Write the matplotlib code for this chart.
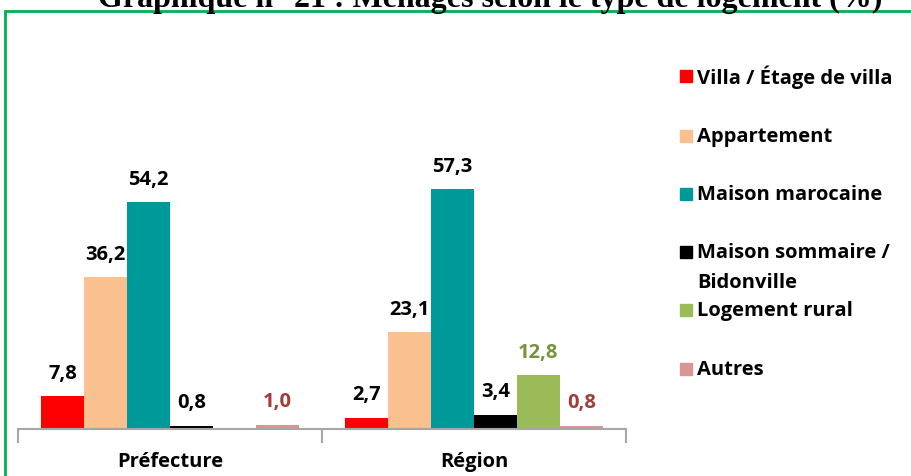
import numpy as np
import matplotlib
matplotlib.use("Agg")
import matplotlib.pyplot as plt
from matplotlib.patches import Rectangle

# ---- data ----
groups = ["Préfecture", "Région"]
series = ["Villa / Étage de villa", "Appartement", "Maison marocaine",
          "Maison sommaire /\nBidonville", "Logement rural", "Autres"]
villa = [7.8, 2.7]
appart = [36.2, 23.1]
maison_maroc = [54.2, 57.3]
sommaire = [0.8, 3.4]
rural = [None, 12.8]
autres = [1.0, 0.8]
values = [villa, appart, maison_maroc, sommaire, rural, autres]

colors = ["#FF0000", "#FAC090", "#009999", "#000000", "#9BBB59", "#D99594"]
label_colors = ["#000000", "#000000", "#000000", "#000000", "#77933C", "#A33B3B"]

plt.rcParams["font.family"] = ["Open Sans", "DejaVu Sans"]
FS = 14.5

fig = plt.figure(figsize=(9.12, 4.77), dpi=100)
ax = fig.add_axes([18 / 912, 47 / 477, 608 / 912, 293 / 477])

bw = 43 / 304
x = np.arange(len(groups))
for i, (vals, c, lc) in enumerate(zip(values, colors, label_colors)):
    off = (i - 2.5) * bw
    for g, v in enumerate(vals):
        if v is None:
            continue
        ax.bar(x[g] + off, v, width=bw, color=c)
        ax.text(x[g] + off, v + 3.2, f"{v:.1f}".replace(".", ","),
                ha="center", va="bottom", fontsize=FS, fontweight="bold", color=lc)

ax.set_xlim(-0.5, 1.5)
ax.set_ylim(0, 70)
ax.set_yticks([])
for s in ["top", "right", "left"]:
    ax.spines[s].set_visible(False)
ax.spines["bottom"].set_color("#A6A6A6")
ax.spines["bottom"].set_linewidth(1.5)
ax.set_xticks([-0.5, 0.5, 1.5])
ax.set_xticklabels([])
ax.tick_params(axis="x", length=10, width=1.5, color="#A6A6A6")
for g, name in enumerate(groups):
    ax.text(x[g], -0.11, name, transform=ax.get_xaxis_transform(),
            ha="center", va="center", fontsize=FS, fontweight="bold")

# legend drawn by hand to match the spacing
leg_y = [77, 137, 195, 253, 311, 370]
for name, c, y in zip(series, colors, leg_y):
    fig.patches.append(Rectangle((680 / 912, 1 - (y + 6) / 477), 12 / 912, 12 / 477,
                                 transform=fig.transFigure, color=c))
    for k, line in enumerate(name.split("\n")):
        fig.text(697 / 912, 1 - (y + 30 * k) / 477, line, ha="left", va="center",
                 fontsize=FS, fontweight="bold")

# frame and title
fig.patches.append(Rectangle((5 / 912, -0.05), 1.0, 1 - 12 / 477 + 0.05,
                             transform=fig.transFigure, fill=False,
                             edgecolor="#00B050", linewidth=2))
fig.text(490 / 912, 1 - 7 / 477, "Graphique n° 21 : Ménages selon le type de logement (%)",
         ha="center", va="baseline", fontsize=23, fontweight="bold",
         family="Liberation Serif")

fig.savefig("out.png", dpi=100)
